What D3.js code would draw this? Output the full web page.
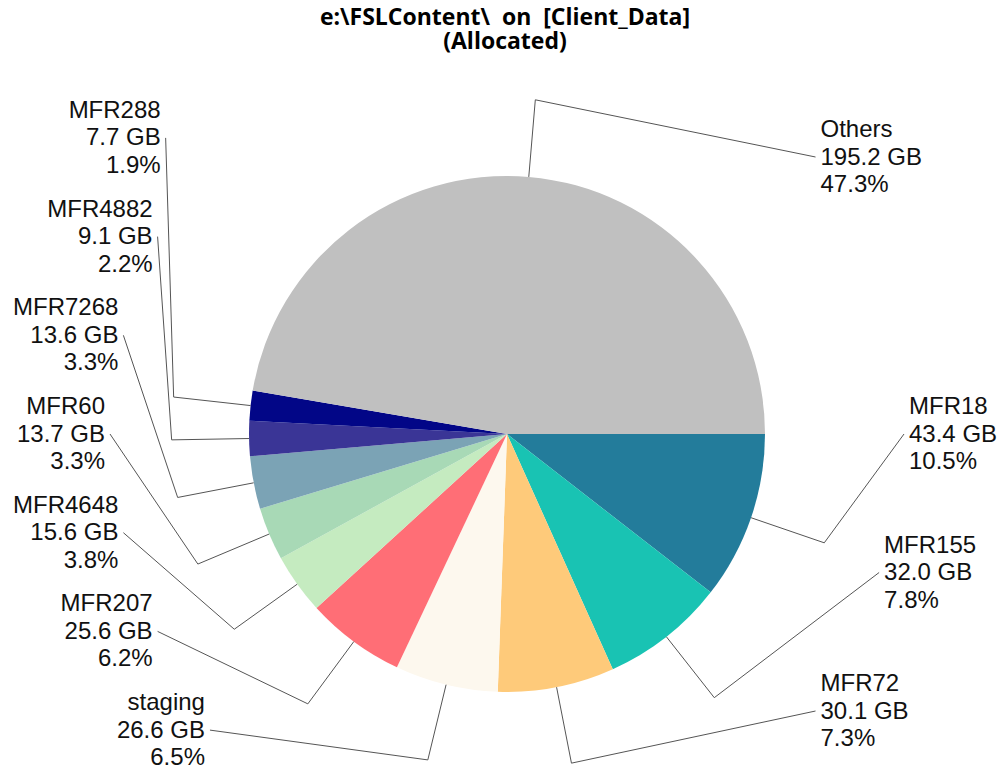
<!DOCTYPE html>
<html>

<head>
  <title>e:\FSLContent\ on [Client_Data] (Allocated)</title>
  <script src="https://d3js.org/d3.v7.min.js"></script>
  <style>
    body {
      margin: 0;
      background: #fff;
    }

    .title {
      font-family: "Open Sans", "Noto Sans", sans-serif;
      font-weight: bold;
      font-size: 23px;
      fill: #000;
      white-space: pre;
    }

    .label {
      font-family: "Liberation Sans", Arial, sans-serif;
      font-size: 24px;
      fill: #111;
    }

    .leader {
      fill: none;
      stroke: #555;
      stroke-width: 1;
    }
  </style>
</head>

<body>
  <svg id="chart" width="997" height="770"></svg>

  <script>
    // 数据（顺时针，从三点钟方向开始）
    const names = ["MFR18", "MFR155", "MFR72", "staging", "MFR207", "MFR4648",
      "MFR60", "MFR7268", "MFR4882", "MFR288", "Others"];
    const sizes = [43.4, 32.0, 30.1, 26.6, 25.6, 15.6, 13.7, 13.6, 9.1, 7.7, 195.2];
    const percents = ["10.5%", "7.8%", "7.3%", "6.5%", "6.2%", "3.8%",
      "3.3%", "3.3%", "2.2%", "1.9%", "47.3%"];
    const colors = ["#237C9B", "#19C3B3", "#FECA7A", "#FDF8EE", "#FF6E76", "#C5EBC0",
      "#A8D9B6", "#7BA3B5", "#3A3596", "#020687", "#C0C0C0"];

    // 标签槽位：右侧 / 左侧，每个槽位的行号（相对圆心）
    const rightSlots = { "Others": -2, "MFR18": 0, "MFR155": 1, "MFR72": 2 };
    const leftSlots = { "MFR288": -3, "MFR4882": -2, "MFR7268": -1, "MFR60": 0,
      "MFR4648": 1, "MFR207": 2, "staging": 3 };

    const svg = d3.select("#chart");
    const cx = 507, cy = 434, radius = 258;

    // 标题
    svg.append("text").attr("class", "title")
      .attr("x", 505).attr("y", 25).attr("text-anchor", "middle")
      .text("e:\\FSLContent\\  on  [Client_Data]");
    svg.append("text").attr("class", "title")
      .attr("x", 505).attr("y", 49).attr("text-anchor", "middle")
      .text("(Allocated)");

    const data = names.map((n, i) => ({ name: n, size: sizes[i], pct: percents[i], color: colors[i] }));

    const pie = d3.pie()
      .sort(null)
      .value(d => d.size)
      .startAngle(Math.PI / 2)
      .endAngle(Math.PI / 2 + 2 * Math.PI);

    const arcs = pie(data);

    const arc = d3.arc().innerRadius(0).outerRadius(radius);
    const edgeArc = d3.arc().innerRadius(radius).outerRadius(radius);
    const elbowArc = d3.arc().innerRadius(radius * 1.3).outerRadius(radius * 1.3);

    const g = svg.append("g").attr("transform", `translate(${cx},${cy})`);

    g.selectAll("path.slice")
      .data(arcs)
      .join("path")
      .attr("class", "slice")
      .attr("d", arc)
      .attr("fill", d => d.data.color);

    // 标签位置：x 随离圆心的垂直距离收缩
    function labelAnchor(d) {
      const name = d.data.name;
      const right = name in rightSlots;
      const dy = right ? rightSlots[name] * 138.5 : leftSlots[name] * 98.7;
      let dx = 397 - 0.003 * Math.pow(Math.abs(dy), 1.83);
      const elbow = elbowArc.centroid(d);
      if (right) {
        dx = Math.max(dx, elbow[0] + 8);
      } else {
        dx = Math.max(dx, -elbow[0] + 8);
        dx = -dx;
      }
      return { x: dx, y: dy, right: right };
    }

    const labels = g.selectAll("g.lbl")
      .data(arcs)
      .join("g")
      .attr("class", "lbl");

    labels.append("polyline")
      .attr("class", "leader")
      .attr("points", d => {
        const a = labelAnchor(d);
        return [edgeArc.centroid(d), elbowArc.centroid(d), [a.x, a.y]].join(" ");
      });

    labels.append("text")
      .attr("class", "label")
      .each(function (d) {
        const a = labelAnchor(d);
        const t = d3.select(this)
          .attr("text-anchor", a.right ? "start" : "end");
        const tx = a.right ? a.x + 5 : a.x - 5;
        const lines = [d.data.name, d3.format(".1f")(d.data.size) + " GB", d.data.pct];
        lines.forEach((s, i) => {
          t.append("tspan")
            .attr("x", tx)
            .attr("y", a.y - 20 + i * 27.5)
            .text(s);
        });
      });
  </script>
</body>

</html>
